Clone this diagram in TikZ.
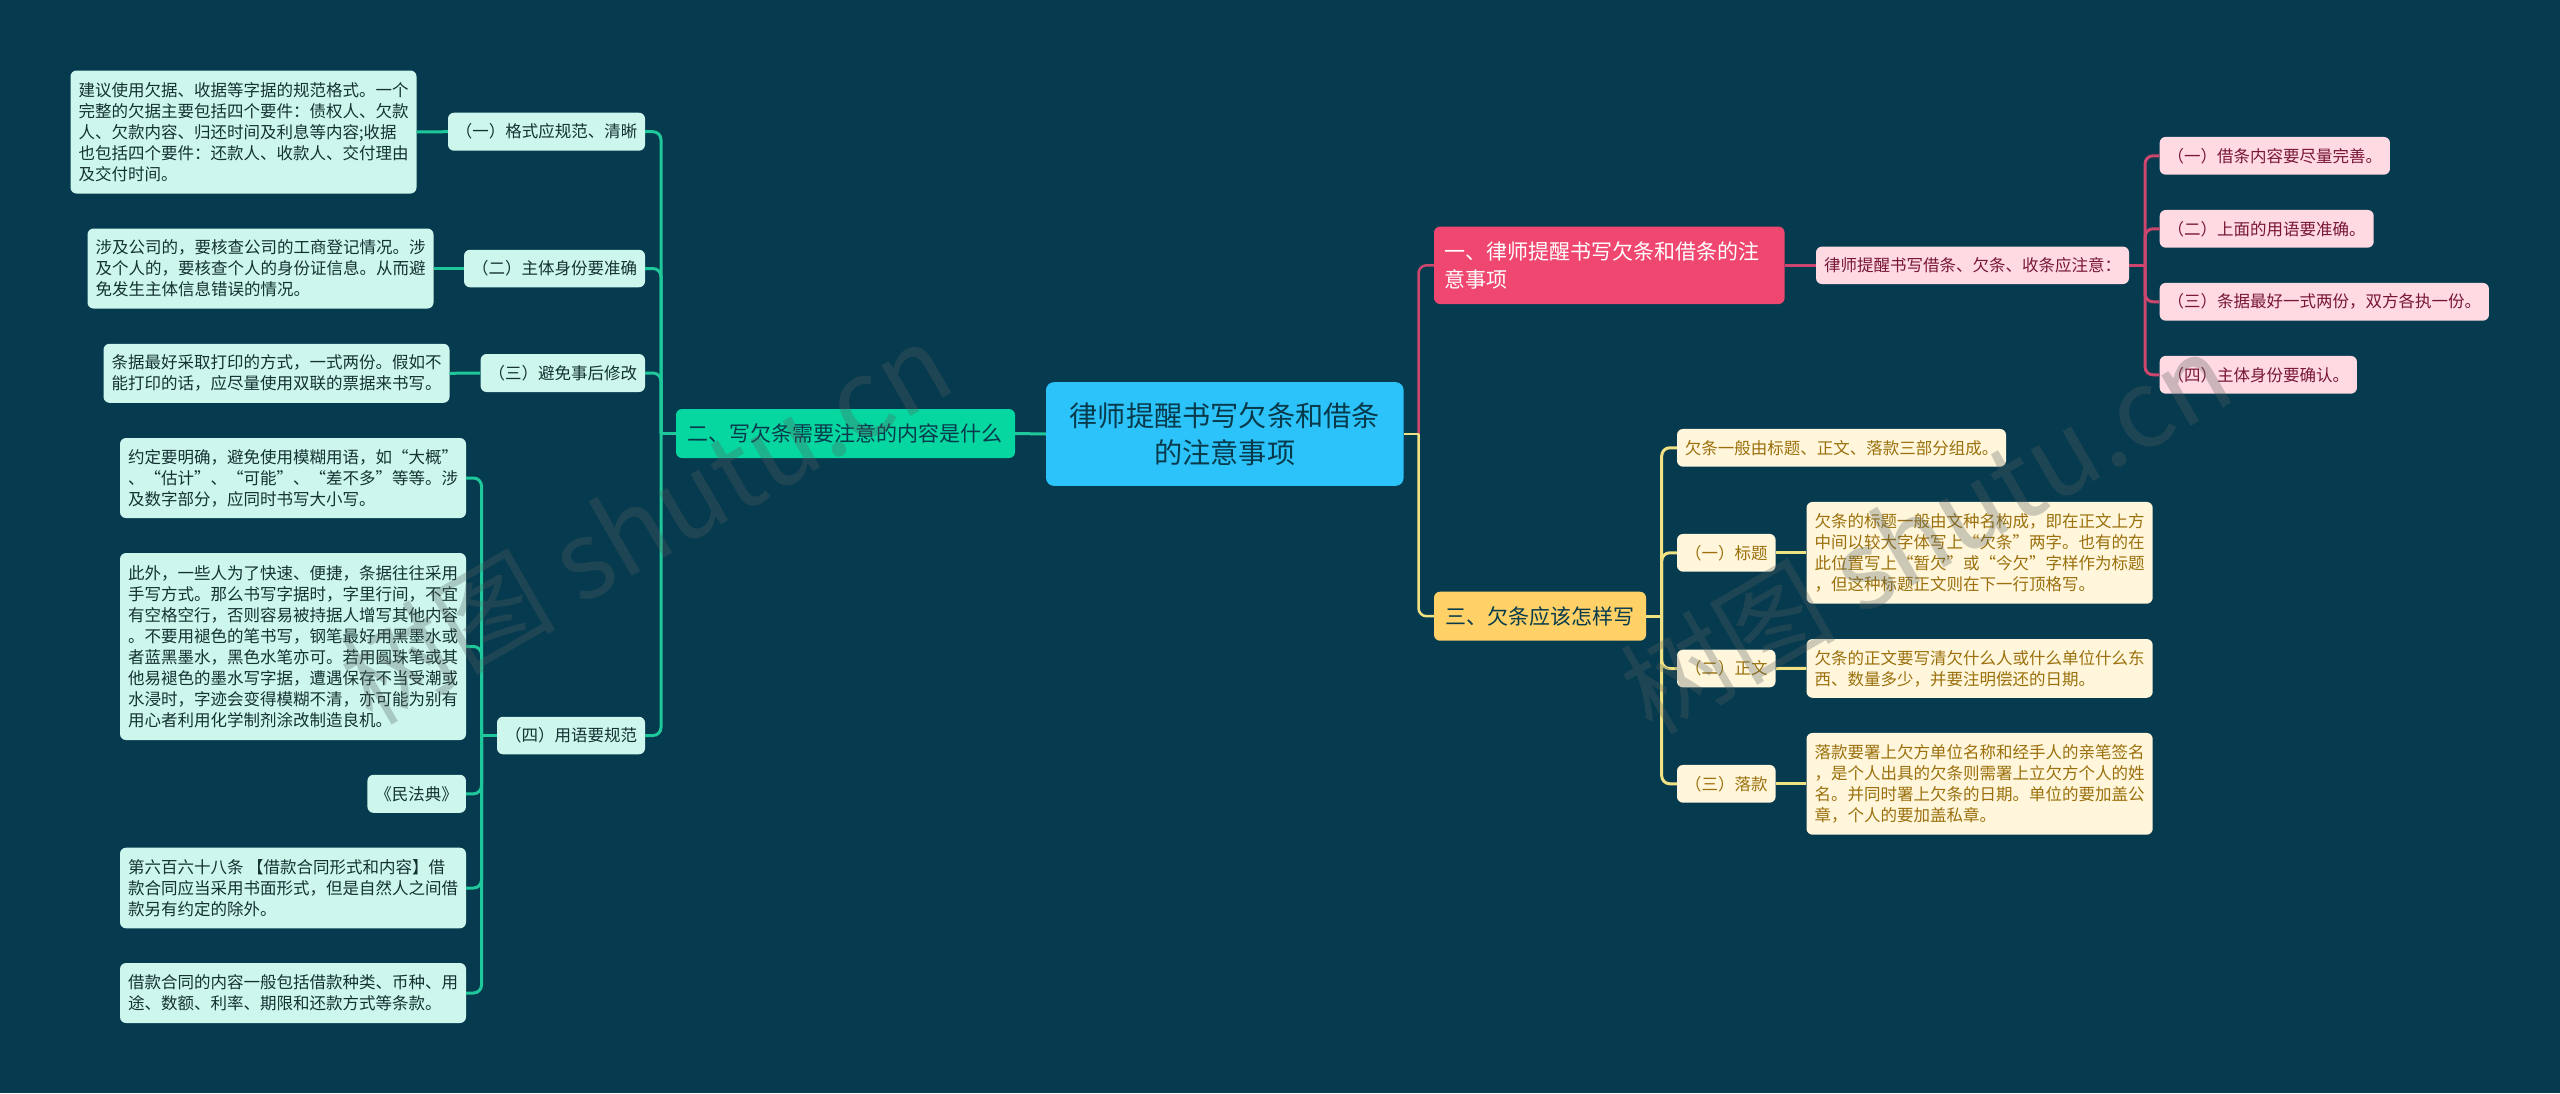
\documentclass[tikz,border=0pt]{standalone}
\usepackage{fontspec}
\setmainfont{Noto Sans CJK SC}
\usepackage{xcolor}
\usepackage{tikz}
\definecolor{mapBack}{RGB}{6, 58, 78}
\definecolor{mapBlue}{RGB}{44, 195, 250}
\definecolor{mapGreen}{RGB}{6, 214, 160}
\definecolor{mapPink}{RGB}{239, 71, 111}
\definecolor{mapYellow}{RGB}{255, 209, 102}
\definecolor{paleGreen}{RGB}{205, 247, 236}
\definecolor{palePink}{RGB}{255, 218, 226}
\definecolor{paleYellow}{RGB}{255, 246, 220}
\definecolor{inkDark}{RGB}{7, 59, 76}
\definecolor{inkLeaf}{RGB}{20, 50, 50}
\definecolor{inkPink}{RGB}{120, 22, 55}
\definecolor{inkYellow}{RGB}{155, 112, 12}
\definecolor{lineGreen}{RGB}{30, 200, 155}
\definecolor{linePink}{RGB}{205, 70, 110}
\definecolor{lineYellow}{RGB}{240, 225, 130}
\definecolor{stampGray}{RGB}{85, 95, 95}
\tikzset{
    plainBox/.style={rounded corners=6pt, inner sep=0pt, align=left, font=\fontsize{16.5pt}{21pt}\selectfont},
    leafGreen/.style={plainBox, fill=paleGreen, text=inkLeaf},
    leafPink/.style={plainBox, fill=palePink, text=inkPink},
    leafYellow/.style={plainBox, fill=paleYellow, text=inkYellow},
    headBox/.style={rounded corners=6pt, inner sep=0pt, align=left, minimum height=49pt, font=\fontsize{21pt}{28pt}\selectfont},
    linkGreen/.style={line width=3pt, lineGreen, rounded corners=8pt},
    linkPink/.style={line width=3pt, linePink, rounded corners=8pt},
    linkYellow/.style={line width=3pt, lineYellow, rounded corners=8pt},
    linkRoot/.style={line width=2.5pt, rounded corners=8pt},
    stampText/.style={rotate=30, text=stampGray, opacity=0.3, font=\fontsize{108pt}{108pt}\selectfont}
}

\begin{document}
\begin{tikzpicture}[x=1pt, y=-1pt]
        \useasboundingbox (0,0) rectangle (2560,1093);
        \fill[mapBack] (0,0) rectangle (2560,1093);

        % Root
        \node[fill=mapBlue, text=inkDark, rounded corners=8pt, inner sep=0pt, align=center, minimum width=357.6pt, minimum height=103.7pt, font=\fontsize{28.2pt}{37pt}\selectfont] (root) at (1224.8,434) {律师提醒书写欠条和借条\\的注意事项};

        % Branch heads
        \node[headBox, fill=mapGreen, text=inkDark, minimum width=339pt, text width=317pt] (headLaw) at (845.5,433.5) {二、写欠条需要注意的内容是什么};
        \node[headBox, fill=mapPink, text=white, minimum width=350.6pt, minimum height=77.4pt, text width=330pt] (headNote) at (1609.3,265.3) {一、律师提醒书写欠条和借条的注\\意事项};
        \node[headBox, fill=mapYellow, text=inkDark, minimum width=212pt, text width=190pt] (headHow) at (1540,616.2) {三、欠条应该怎样写};

        % Left branch, items
        \node[leafGreen, minimum width=197pt, minimum height=38pt] (itemForm) at (546.5,131.7) {（一）格式应规范、清晰};
        \node[leafGreen, minimum width=181pt, minimum height=37.5pt] (itemParty) at (554.5,268.5) {（二）主体身份要准确};
        \node[leafGreen, minimum width=164.4pt, minimum height=38pt] (itemEdit) at (562.8,373) {（三）避免事后修改};
        \node[leafGreen, minimum width=148pt, minimum height=37.5pt] (itemWord) at (571,735.5) {（四）用语要规范};

        % Left branch, texts
        \node[leafGreen, minimum width=346pt, minimum height=123pt] (textForm) at (243.5,132) {建议使用欠据、收据等字据的规范格式。一个\\完整的欠据主要包括四个要件：债权人、欠款\\人、欠款内容、归还时间及利息等内容;收据\\也包括四个要件：还款人、收款人、交付理由\\及交付时间。};
        \node[leafGreen, minimum width=346pt, minimum height=80pt] (textParty) at (260.5,268.5) {涉及公司的，要核查公司的工商登记情况。涉\\及个人的，要核查个人的身份证信息。从而避\\免发生主体信息错误的情况。};
        \node[leafGreen, minimum width=346pt, minimum height=59pt] (textEdit) at (276.5,373.3) {条据最好采取打印的方式，一式两份。假如不\\能打印的话，应尽量使用双联的票据来书写。};
        \node[leafGreen, minimum width=346pt, minimum height=80pt] (textClear) at (293,478) {约定要明确，避免使用模糊用语，如“大概”\\、“估计”、“可能”、“差不多”等等。涉\\及数字部分，应同时书写大小写。};
        \node[leafGreen, minimum width=346pt, minimum height=187pt] (textHand) at (293,646.5) {此外，一些人为了快速、便捷，条据往往采用\\手写方式。那么书写字据时，字里行间，不宜\\有空格空行，否则容易被持据人增写其他内容\\。不要用褪色的笔书写，钢笔最好用黑墨水或\\者蓝黑墨水，黑色水笔亦可。若用圆珠笔或其\\他易褪色的墨水写字据，遭遇保存不当受潮或\\水浸时，字迹会变得模糊不清，亦可能为别有\\用心者利用化学制剂涂改制造良机。};
        \node[leafGreen, minimum width=98.5pt, minimum height=38pt] (textCode) at (416.7,793.8) {《民法典》};
        \node[leafGreen, minimum width=346pt, minimum height=80.6pt] (textRule) at (293,888) {第六百六十八条 【借款合同形式和内容】借\\款合同应当采用书面形式，但是自然人之间借\\款另有约定的除外。};
        \node[leafGreen, minimum width=346pt, minimum height=60pt] (textLoan) at (293,993) {借款合同的内容一般包括借款种类、币种、用\\途、数额、利率、期限和还款方式等条款。};

        % Upper right branch
        \node[leafPink, minimum width=313pt, minimum height=37.5pt] (noteMain) at (1972.5,265.3) {律师提醒书写借条、欠条、收条应注意：};
        \node[leafPink, minimum width=230.3pt, minimum height=37.7pt] (noteOne) at (2274.8,155.8) {（一）借条内容要尽量完善。};
        \node[leafPink, minimum width=214pt, minimum height=37.7pt] (noteTwo) at (2266.7,228.8) {（二）上面的用语要准确。};
        \node[leafPink, minimum width=329.3pt, minimum height=37.7pt] (noteThree) at (2324.3,301.8) {（三）条据最好一式两份，双方各执一份。};
        \node[leafPink, minimum width=197.3pt, minimum height=37.7pt] (noteFour) at (2258.3,374.8) {（四）主体身份要确认。};

        % Lower right branch
        \node[leafYellow, minimum width=329pt, minimum height=37.7pt] (partAll) at (1841.5,447.8) {欠条一般由标题、正文、落款三部分组成。};
        \node[leafYellow, minimum width=98.6pt, minimum height=37.7pt] (partTitle) at (1726.3,552.8) {（一）标题};
        \node[leafYellow, minimum width=98.6pt, minimum height=37.7pt] (partBody) at (1726.3,668.5) {（二）正文};
        \node[leafYellow, minimum width=98.6pt, minimum height=37.7pt] (partSign) at (1726.3,783.8) {（三）落款};
        \node[leafYellow, minimum width=346.2pt, minimum height=101.7pt] (textTitle) at (1979.6,552.8) {欠条的标题一般由文种名构成，即在正文上方\\中间以较大字体写上“欠条”两字。也有的在\\此位置写上“暂欠”或“今欠”字样作为标题\\，但这种标题正文则在下一行顶格写。};
        \node[leafYellow, minimum width=346.2pt, minimum height=58.7pt] (textBody) at (1979.6,668.4) {欠条的正文要写清欠什么人或什么单位什么东\\西、数量多少，并要注明偿还的日期。};
        \node[leafYellow, minimum width=346.2pt, minimum height=101.7pt] (textSign) at (1979.6,783.8) {落款要署上欠方单位名称和经手人的亲笔签名\\，是个人出具的欠条则需署上立欠方个人的姓\\名。并同时署上欠条的日期。单位的要加盖公\\章，个人的要加盖私章。};

        % Spines
        \coordinate (spineRoot) at (1418.5,434);
        \coordinate (spineLaw) at (661,433.5);
        \coordinate (spineWord) at (481.5,735.5);
        \coordinate (spineNote) at (2145,265.3);
        \coordinate (spineHow) at (1661.7,616.2);

        % Root links
        \draw[linkGreen] (root.west) -- (headLaw.east);
        \draw[linkRoot, linePink] (spineRoot) |- (headNote.west);
        \draw[linkRoot, lineYellow] (root.east) -- (spineRoot);
        \draw[linkRoot, lineYellow] (spineRoot) |- (headHow.west);

        % Left links
        \draw[linkGreen] (headLaw.west) -- (spineLaw);
        \draw[linkGreen] (spineLaw) |- (itemForm.east);
        \draw[linkGreen] (spineLaw) |- (itemParty.east);
        \draw[linkGreen] (spineLaw) |- (itemEdit.east);
        \draw[linkGreen] (spineLaw) |- (itemWord.east);
        \draw[linkGreen] (itemForm.west) -- (textForm.east);
        \draw[linkGreen] (itemParty.west) -- (textParty.east);
        \draw[linkGreen] (itemEdit.west) -- (textEdit.east);
        \draw[linkGreen] (itemWord.west) -- (spineWord);
        \draw[linkGreen] (spineWord) |- (textClear.east);
        \draw[linkGreen] (spineWord) |- (textHand.east);
        \draw[linkGreen] (spineWord) |- (textCode.east);
        \draw[linkGreen] (spineWord) |- (textRule.east);
        \draw[linkGreen] (spineWord) |- (textLoan.east);

        % Right links
        \draw[linkPink] (headNote.east) -- (noteMain.west);
        \draw[linkPink] (noteMain.east) -- (spineNote);
        \draw[linkPink] (spineNote) |- (noteOne.west);
        \draw[linkPink] (spineNote) |- (noteTwo.west);
        \draw[linkPink] (spineNote) |- (noteThree.west);
        \draw[linkPink] (spineNote) |- (noteFour.west);
        \draw[linkYellow] (headHow.east) -- (spineHow);
        \draw[linkYellow] (spineHow) |- (partAll.west);
        \draw[linkYellow] (spineHow) |- (partTitle.west);
        \draw[linkYellow] (spineHow) |- (partBody.west);
        \draw[linkYellow] (spineHow) |- (partSign.west);
        \draw[linkYellow] (partTitle.east) -- (textTitle.west);
        \draw[linkYellow] (partBody.east) -- (textBody.west);
        \draw[linkYellow] (partSign.east) -- (textSign.west);

        % Stamps
        \node[stampText] (stampLeft) at (645,522) {树图 shutu.cn};
        \node[stampText] (stampRight) at (1925,532) {树图 shutu.cn};
    \end{tikzpicture}
\end{document}
